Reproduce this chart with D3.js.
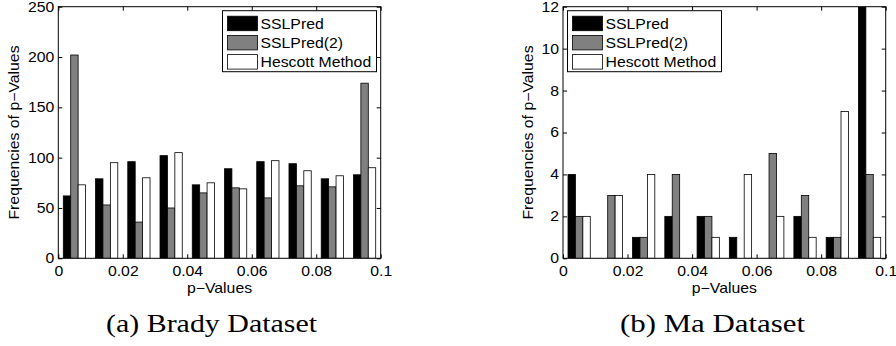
<!DOCTYPE html>
<html>
<head>
<meta charset="utf-8">
<script src="https://cdn.jsdelivr.net/npm/d3@7"></script>
<style>
  html, body { margin: 0; padding: 0; background: #fff; }
  svg { display: block; }
  text { font-family: "Liberation Sans", Arial, sans-serif; fill: #000; }
</style>
</head>
<body>
<svg id="chart" width="896" height="346"></svg>
<script>
// ---- data ----
const binCenters = [0.005, 0.015, 0.025, 0.035, 0.045, 0.055, 0.065, 0.075, 0.085, 0.095];
const seriesNames = ["SSLPred", "SSLPred(2)", "Hescott Method"];
const seriesColors = ["#000000", "#808080", "#ffffff"];

const bradySSLPred  = [62, 79, 96, 102, 73, 89, 96, 94, 79, 83];
const bradySSLPred2 = [202, 53, 36, 50, 65, 70, 60, 72, 71, 174];
const bradyHescott  = [73, 95, 80, 105, 75, 69, 97, 87, 82, 90];

const maSSLPred  = [4, 0, 1, 2, 2, 1, 0, 2, 1, 12];
const maSSLPred2 = [2, 3, 1, 4, 2, 0, 5, 3, 1, 4];
const maHescott  = [2, 3, 4, 0, 1, 4, 2, 1, 7, 1];

const xTickValues = [0, 0.02, 0.04, 0.06, 0.08, 0.1];
const xTickLabels = ["0", "0.02", "0.04", "0.06", "0.08", "0.1"];
const bradyYTicks = [0, 50, 100, 150, 200, 250];
const maYTicks = [0, 2, 4, 6, 8, 10, 12];

const xLabel = "p\u2212Values";
const yLabel = "Frequencies of p\u2212Values";
const captions = ["(a) Brady Dataset", "(b) Ma Dataset"];

// ---- drawing ----
const svg = d3.select("#chart");
const FS = 14, SX = 1.13;

function stretchTicks(g) {
  g.selectAll(".tick text").each(function () {
    const t = d3.select(this);
    const x = +t.attr("x") || 0;
    t.attr("x", 0).attr("transform", `translate(${x},0) scale(${SX},1)`);
  });
}

function panel(opts) {
  const { left, right, top, bottom, yMax, yTicks, series, legendX, ylabelX, caption, captionX, captionW, idx } = opts;
  const g = svg.append("g");
  const x = d3.scaleLinear().domain([0, 0.1]).range([left, right]);
  const y = d3.scaleLinear().domain([0, yMax]).range([bottom, top]);
  const binPx = x(0.01) - x(0);
  const x1 = d3.scaleBand().domain(d3.range(seriesNames.length))
    .range([-binPx * 0.345, binPx * 0.345]).padding(0);

  const clipId = "clip" + idx;
  svg.append("clipPath").attr("id", clipId)
    .append("rect").attr("x", left).attr("y", top).attr("width", right - left).attr("height", bottom - top);

  const bars = g.append("g").attr("clip-path", `url(#${clipId})`);
  series.forEach((vals, si) => {
    bars.selectAll(null).data(vals).enter().append("rect")
      .attr("x", (d, i) => x(binCenters[i]) + x1(si))
      .attr("width", x1.bandwidth())
      .attr("y", d => y(d))
      .attr("height", d => y(0) - y(d))
      .attr("fill", seriesColors[si])
      .attr("stroke", "#000").attr("stroke-width", 0.8);
  });

  // axes
  const fmt = d => xTickLabels[xTickValues.indexOf(d)];
  const ax = g.append("g").attr("transform", `translate(0,${bottom})`)
    .call(d3.axisBottom(x).tickValues(xTickValues).tickFormat(fmt).tickSizeInner(-4).tickSizeOuter(0).tickPadding(8));
  const axT = g.append("g").attr("transform", `translate(0,${top})`)
    .call(d3.axisTop(x).tickValues(xTickValues).tickFormat("").tickSizeInner(-4).tickSizeOuter(0));
  const ay = g.append("g").attr("transform", `translate(${left},0)`)
    .call(d3.axisLeft(y).tickValues(yTicks).tickFormat(d3.format("d")).tickSizeInner(-4).tickSizeOuter(0).tickPadding(4));
  const ayR = g.append("g").attr("transform", `translate(${right},0)`)
    .call(d3.axisRight(y).tickValues(yTicks).tickFormat("").tickSizeInner(-4).tickSizeOuter(0));
  [ax, axT, ay, ayR].forEach(a => {
    a.select(".domain").remove();
    a.selectAll(".tick line").attr("stroke", "#000");
    a.selectAll(".tick text").attr("font-size", FS).attr("font-family", "Liberation Sans, Arial, sans-serif").attr("fill", "#000");
  });
  stretchTicks(ax); stretchTicks(ay);

  g.append("rect").attr("x", left).attr("y", top).attr("width", right - left).attr("height", bottom - top)
    .attr("fill", "none").attr("stroke", "#000").attr("stroke-width", 1);

  // axis labels
  g.append("text").attr("transform", `translate(${(left + right) / 2},${bottom + 35}) scale(${SX},1)`)
    .attr("text-anchor", "middle").attr("font-size", FS).text(xLabel);
  g.append("text").attr("transform", `translate(${ylabelX},${(top + bottom) / 2}) rotate(-90) scale(${SX},1)`)
    .attr("text-anchor", "middle").attr("font-size", FS).text(yLabel);

  // legend
  const lg = g.append("g").attr("transform", `translate(${legendX},${top + 4})`);
  lg.append("rect").attr("x", 0).attr("y", 0).attr("width", 154).attr("height", 61)
    .attr("fill", "#fff").attr("stroke", "#000").attr("stroke-width", 1);
  seriesNames.forEach((name, i) => {
    lg.append("rect").attr("x", 5).attr("y", 5.5 + i * 19.2).attr("width", 30).attr("height", 14.5)
      .attr("fill", seriesColors[i]).attr("stroke", "#000").attr("stroke-width", 0.8);
    lg.append("text").attr("transform", `translate(38,${18 + i * 19.2}) scale(${SX},1)`)
      .attr("font-size", FS).text(name);
  });

  // caption
  svg.append("text").attr("x", captionX).attr("y", 332)
    .attr("font-family", "Liberation Serif, Times New Roman, serif").attr("font-size", 26)
    .attr("textLength", captionW).attr("lengthAdjust", "spacingAndGlyphs")
    .style("font-family", "'Liberation Serif', serif")
    .text(caption);
}

panel({
  idx: 0, left: 58.3, right: 380.7, top: 6.7, bottom: 258.3, yMax: 250, yTicks: bradyYTicks,
  series: [bradySSLPred, bradySSLPred2, bradyHescott], legendX: 222.5, ylabelX: 18.5,
  caption: captions[0], captionX: 106, captionW: 211
});
panel({
  idx: 1, left: 563, right: 885.7, top: 6.7, bottom: 258.3, yMax: 12, yTicks: maYTicks,
  series: [maSSLPred, maSSLPred2, maHescott], legendX: 567.5, ylabelX: 533,
  caption: captions[1], captionX: 620, captionW: 185
});
</script>
</body>
</html>
